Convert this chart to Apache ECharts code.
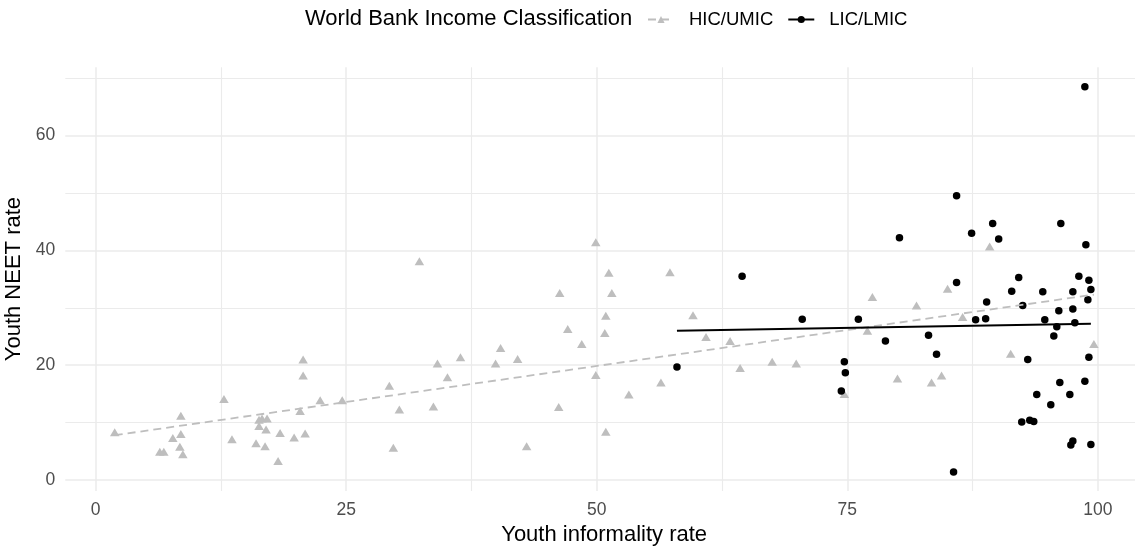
<!DOCTYPE html>
<html>
<head>
<meta charset="utf-8">
<script src="https://cdn.jsdelivr.net/npm/echarts@6/dist/echarts.min.js"></script>
<style>
html,body{margin:0;padding:0;background:#fff;}
#chart{width:1135px;height:547px;}
</style>
</head>
<body>
<div id="chart"></div>
<script>
// ---- data ----
const hicX = [1.9,8.5,8.5,7.7,8.4,8.7,6.4,6.8,12.8,13.6,16.0,16.3,16.6,17.1,16.3,17.0,16.9,18.2,18.4,19.8,20.9,20.4,20.7,20.7,22.4,24.6,32.3,29.3,30.3,29.7,33.7,34.1,35.1,36.4,39.9,40.4,42.1,43.0,46.2,46.3,47.1,48.5,49.9,49.9,50.9,50.8,50.9,51.2,51.5,53.2,56.4,57.3,59.6,60.9,63.3,64.3,67.5,69.9,74.7,77.0,77.5,81.9,80.0,83.4,84.4,85.0,86.5,89.2,91.3,99.6];
const hicY = [8.3,11.2,8.0,7.3,5.8,4.5,4.9,4.9,14.1,7.1,6.4,10.5,10.7,10.7,9.4,8.8,5.9,3.3,8.2,7.4,8.1,12.0,21.0,18.2,13.9,13.9,38.1,16.4,12.3,5.6,12.8,20.3,17.9,21.4,20.3,23.0,21.1,5.9,12.7,32.6,26.3,23.7,41.4,18.3,8.4,25.6,28.6,36.1,32.6,14.9,17.0,36.2,28.7,24.9,24.2,19.5,20.6,20.3,15.0,26.0,31.9,30.4,17.7,17.0,18.2,33.3,28.4,40.7,22.0,23.7];
const licX = [58.0,64.5,70.5,76.1,74.7,74.8,74.4,78.8,80.2,83.1,83.9,85.9,85.9,85.6,87.4,87.8,88.8,88.9,89.5,90.1,91.4,92.1,92.5,93.0,92.4,93.2,93.6,93.9,94.5,94.7,95.3,95.6,95.9,96.1,96.2,96.3,97.2,97.5,97.5,97.7,97.3,97.5,98.1,98.7,98.8,99.1,99.0,99.3,99.1,99.3,98.7];
const licY = [19.7,35.5,28.0,28.0,20.6,18.7,15.5,24.2,42.2,25.2,21.9,34.4,49.5,1.4,43.0,27.9,28.1,31.0,44.7,42.0,32.9,35.3,30.4,21.0,10.1,10.4,10.2,14.9,32.8,27.9,13.1,25.1,26.7,29.5,17.0,44.7,14.9,29.8,32.8,27.4,6.1,6.8,35.5,17.2,41.0,34.8,31.4,33.2,21.4,6.2,68.5];
const hicFitX = [1.9, 99.6];
const hicFitY = [7.8, 32.3];
const licFitX = [58.0, 99.3];
const licFitY = [26.0, 27.2];
const xTicks = [0, 25, 50, 75, 100];
const xMinor = [12.5, 37.5, 62.5, 87.5];
const yTicks = [0, 20, 40, 60];
const yMinor = [10, 30, 50, 70];
const seriesNames = ['HIC/UMIC', 'LIC/LMIC'];
const legendTitle = 'World Bank Income Classification';
const xTitle = 'Youth informality rate';
const yTitle = 'Youth NEET rate';

// ---- chart ----
const zip = (a, b) => a.map((v, i) => [v, b[i]]);
const FONT = 'Liberation Sans, Arial, Helvetica, sans-serif';
const GRID = '#EBEBEB';
const xMin = -3.03, xMax = 104.5, yMin = -1.9, yMax = 71.9;

const chart = echarts.init(document.getElementById('chart'), null, {renderer: 'canvas'});
const majorX = {
  type: 'value', min: xMin, max: xMax, position: 'bottom',
  axisLine: {show: false}, axisTick: {show: false, customValues: xTicks},
  axisLabel: {customValues: xTicks, color: '#4D4D4D', fontSize: 17.5, fontFamily: FONT, margin: 10},
  splitLine: {show: true, lineStyle: {color: GRID, width: 1.5}},
  name: xTitle, nameLocation: 'middle', nameGap: 28,
  nameTextStyle: {color: '#000', fontSize: 22, fontFamily: FONT}
};
const minorX = {
  type: 'value', min: xMin, max: xMax, position: 'top',
  axisLine: {show: false}, axisTick: {show: false, customValues: xMinor},
  axisLabel: {show: false, customValues: xMinor},
  splitLine: {show: true, lineStyle: {color: GRID, width: 1.1}}
};
const majorY = {
  type: 'value', min: yMin, max: yMax, position: 'left',
  axisLine: {show: false}, axisTick: {show: false, customValues: yTicks},
  axisLabel: {customValues: yTicks, color: '#4D4D4D', fontSize: 17.5, fontFamily: FONT, margin: 10},
  splitLine: {show: true, lineStyle: {color: GRID, width: 1.5}},
  name: yTitle, nameLocation: 'middle', nameGap: 37,
  nameTextStyle: {color: '#000', fontSize: 22, fontFamily: FONT}
};
const minorY = {
  type: 'value', min: yMin, max: yMax, position: 'right',
  axisLine: {show: false}, axisTick: {show: false, customValues: yMinor},
  axisLabel: {show: false, customValues: yMinor},
  splitLine: {show: true, lineStyle: {color: GRID, width: 1.1}}
};

chart.setOption({
  animation: false,
  backgroundColor: '#fff',
  textStyle: {fontFamily: FONT},
  title: {
    text: legendTitle, left: 305, top: 8, padding: 0,
    textStyle: {fontSize: 22, fontWeight: 'normal', color: '#000', fontFamily: FONT}
  },
  legend: {
    data: seriesNames, left: 647, top: 10, padding: 0,
    itemWidth: 26, itemHeight: 9, itemGap: 14,
    textStyle: {fontSize: 18.5, color: '#000', fontFamily: FONT, padding: [0, 0, 0, 10]}
  },
  grid: {left: 65.3, top: 67.3, width: 1077.7, height: 423.6, containLabel: false, outerBoundsMode: 'none'},
  xAxis: [majorX, minorX],
  yAxis: [majorY, minorY],
  series: [
    {
      name: seriesNames[0], type: 'line', data: zip(hicFitX, hicFitY),
      symbol: 'triangle', symbolSize: 8, showSymbol: false, z: 5,
      itemStyle: {color: '#BEBEBE'},
      lineStyle: {color: '#BEBEBE', width: 1.8, type: [8, 5]}
    },
    {
      name: seriesNames[1], type: 'line', data: zip(licFitX, licFitY),
      symbol: 'circle', symbolSize: 7, showSymbol: false, z: 5,
      itemStyle: {color: '#000'},
      lineStyle: {color: '#000', width: 2}
    },
    {
      name: seriesNames[0], type: 'scatter', data: zip(hicX, hicY),
      symbol: 'triangle', symbolSize: [9.5, 8], z: 3,
      itemStyle: {color: '#BEBEBE', opacity: 1}
    },
    {
      name: seriesNames[1], type: 'scatter', data: zip(licX, licY),
      symbol: 'circle', symbolSize: 7.5, z: 4,
      itemStyle: {color: '#000', opacity: 1}
    }
  ]
});
</script>
</body>
</html>
